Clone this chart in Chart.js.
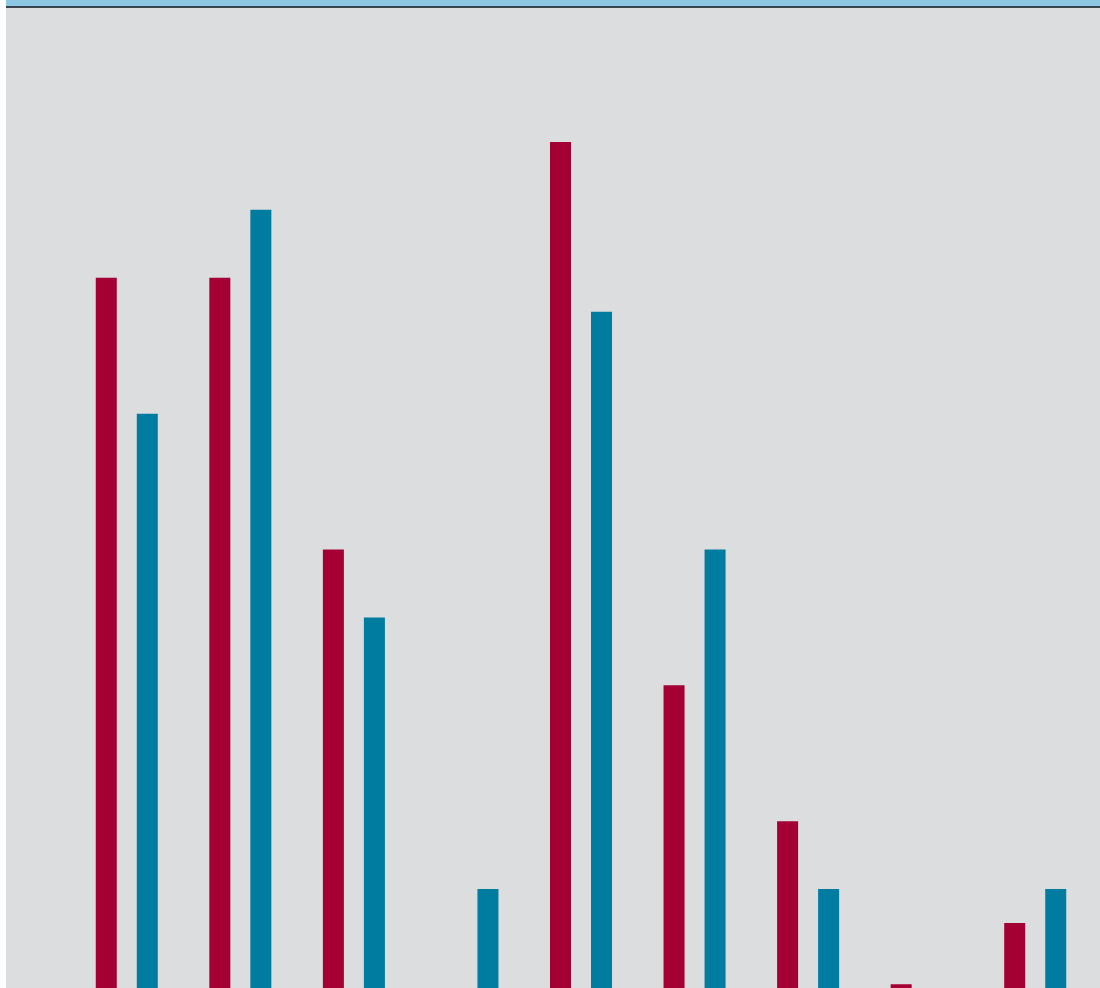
<!DOCTYPE html>
<html>
<head>
<meta charset="utf-8">
<script src="https://cdn.jsdelivr.net/npm/chart.js@4/dist/chart.umd.min.js"></script>
<style>
  html, body { margin: 0; padding: 0; background: #ffffff; }
  #wrap { position: absolute; left: 6px; top: 0; width: 1094px; height: 988px; }
  #band { height: 6px; background: #8ec7e3; border-bottom: 2px solid #37444f; }
  #box { position: relative; width: 1094px; height: 980px; background: #dcdddf; }
  canvas { display: block; }
</style>
</head>
<body>
<div id="wrap">
  <div id="band"></div>
  <div id="box"><canvas id="c" width="1094" height="980"></canvas></div>
</div>
<script>
const categories = ['1', '2', '3', '4', '5', '6', '7', '8', '9'];
const seriesRed  = [6, 6, 4, null, 7, 3, 2, 0.8, 1.25];
const seriesTeal = [5, 6.5, 3.5, 1.5, 5.75, 4, 1.5, null, 1.5];
const yMin = 0.772;
const yMax = 7.986;

new Chart(document.getElementById('c'), {
  type: 'bar',
  data: {
    labels: categories,
    datasets: [
      { label: 'A', data: seriesRed, backgroundColor: '#a50034', borderWidth: 0 },
      { label: 'B', data: seriesTeal, backgroundColor: '#007ca0', borderWidth: 0 }
    ]
  },
  options: {
    responsive: false,
    animation: false,
    devicePixelRatio: 1,
    layout: { padding: { left: 64, right: 8, top: 0, bottom: 0 } },
    datasets: { bar: { categoryPercentage: 0.7225, barPercentage: 0.512 } },
    plugins: { legend: { display: false }, tooltip: { enabled: false }, title: { display: false } },
    scales: {
      x: { display: false, grid: { display: false } },
      y: { display: false, min: yMin, max: yMax, grid: { display: false } }
    }
  }
});
</script>
</body>
</html>
